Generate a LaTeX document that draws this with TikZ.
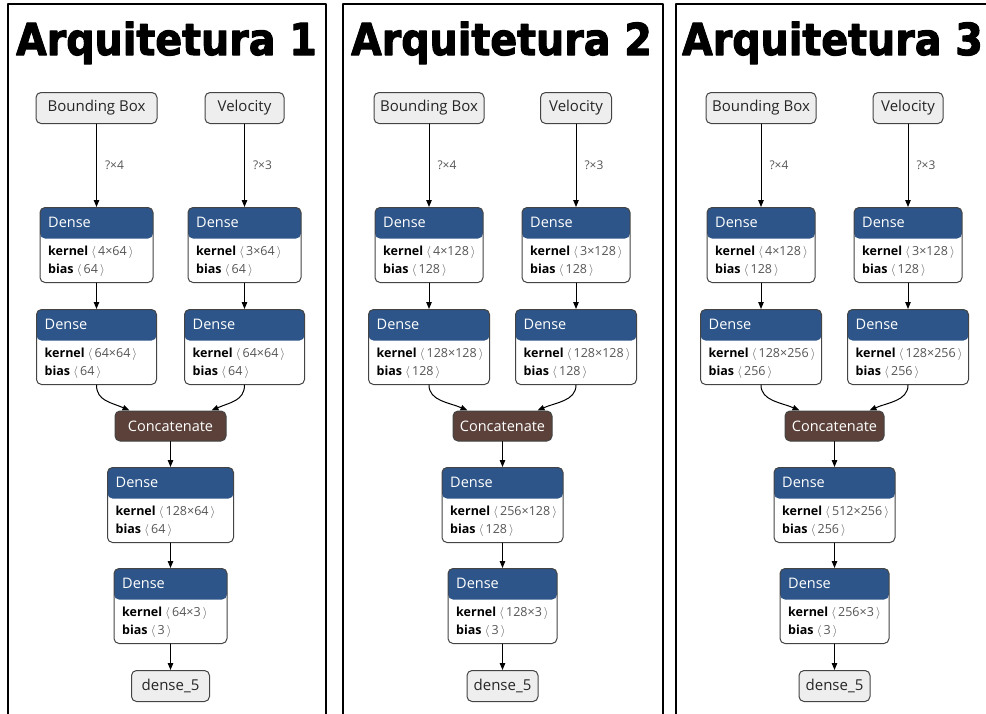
\documentclass[tikz,border=0pt]{standalone}
\usepackage{fontspec}
\setmainfont{Open Sans}
\newfontfamily\titlefont[FakeBold=2.5]{DejaVu Sans Bold}
\usetikzlibrary{arrows.meta}

\definecolor{denseblue}{HTML}{2E5589}
\definecolor{catbrown}{HTML}{5B4139}
\definecolor{iofill}{HTML}{EEEEEE}
\definecolor{boxline}{HTML}{444444}
\definecolor{dimgray}{HTML}{555555}

\tikzset{
  iobox/.style={draw=boxline, fill=iofill, rounded corners=5pt, line width=1pt, minimum height=31pt, inner sep=0pt, text=black!85, font=\fontsize{15}{17}\selectfont},
  catbox/.style={draw=boxline, fill=catbrown, rounded corners=5pt, line width=1pt, minimum height=30pt, inner sep=0pt, text=white, font=\fontsize{14.5}{17}\selectfont},
  densebox/.style={draw=boxline, fill=white, rounded corners=5pt, line width=1pt, minimum height=75pt, inner sep=0pt,
    path picture={\fill[denseblue] (path picture bounding box.north west) rectangle ([yshift=-31pt]path picture bounding box.north east);}},
  headtxt/.style={anchor=west, inner sep=0pt, text=white, font=\fontsize{14.5}{17}\selectfont},
  bodytxt/.style={anchor=west, inner sep=0pt, font=\fontsize{12.5}{15}\selectfont},
  flow/.style={-{Triangle[length=7pt,width=5.5pt]}, line width=1pt},
  dimlbl/.style={right, xshift=8pt, inner sep=0pt, text=dimgray, font=\fontsize{12}{14}\selectfont},
  panel/.style={draw, line width=2pt},
  titletxt/.style={anchor=base, inner sep=0pt, xscale=0.9, font=\titlefont\fontsize{44}{50}\selectfont}
}

\newcommand{\dims}[1]{{\color{dimgray}$\langle$\,#1\,$\rangle$}}
% name, centre x, top y, width, kernel, bias
\newcommand{\densenode}[6]{%
  \node[densebox, minimum width=#4pt, anchor=north] (#1) at (#2,#3) {};
  \node[headtxt] (#1h) at ([xshift=8.5pt,yshift=-15.5pt]#1.north west) {Dense};
  \node[bodytxt] (#1k) at ([xshift=8.5pt,yshift=-45pt]#1.north west) {\textbf{kernel} \dims{#5}};
  \node[bodytxt] (#1b) at ([xshift=8.5pt,yshift=-63pt]#1.north west) {\textbf{bias} \dims{#6}};
}

\begin{document}
\begin{tikzpicture}[x=1pt, y=-1pt, line join=round, line cap=round]
	\useasboundingbox (0,0) rectangle (986,713);
	\clip (0,0) rectangle (986,713);

	\draw[panel] (8,4) rectangle (326,730);
	\draw[panel] (343,4) rectangle (663,730);
	\draw[panel] (676,4) rectangle (1000,730);

	% Arquitetura 1
	\node[titletxt] (t1) at (166.5,55) {Arquitetura 1};
	\node[iobox, minimum width=121pt] (p1bb) at (96.5,108) {Bounding Box};
	\node[iobox, minimum width=79pt] (p1vel) at (244.5,108) {Velocity};
	\densenode{p1d1l}{96.5}{207}{113}{4×64}{64}
	\densenode{p1d1r}{244.5}{207}{113}{3×64}{64}
	\densenode{p1d2l}{96.5}{309}{120}{64×64}{64}
	\densenode{p1d2r}{244.5}{309}{120}{64×64}{64}
	\node[catbox, minimum width=111pt] (p1cat) at (170.5,426) {Concatenate};
	\densenode{p1d3}{170.5}{467}{126}{128×64}{64}
	\densenode{p1d4}{170.5}{568}{113}{64×3}{3}
	\node[iobox, minimum width=78pt] (p1out) at (170.5,686) {dense\_5};

	\draw[flow] (p1bb.south) -- (p1d1l.north) node[midway, dimlbl] {?×4};
	\draw[flow] (p1vel.south) -- (p1d1r.north) node[midway, dimlbl] {?×3};
	\draw[flow] (p1d1l.south) -- (p1d2l.north);
	\draw[flow] (p1d1r.south) -- (p1d2r.north);
	\draw[flow] (p1d2l.south) .. controls +(0,16) and +(-18,-8) .. ([xshift=15pt]p1cat.north west);
	\draw[flow] (p1d2r.south) .. controls +(0,16) and +(18,-8) .. ([xshift=-15pt]p1cat.north east);
	\draw[flow] (p1cat.south) -- (p1d3.north);
	\draw[flow] (p1d3.south) -- (p1d4.north);
	\draw[flow] (p1d4.south) -- (p1out.north);

	% Arquitetura 2
	\node[titletxt] (t2) at (501.5,55) {Arquitetura 2};
	\node[iobox, minimum width=110pt] (p2bb) at (429,108) {Bounding Box};
	\node[iobox, minimum width=71pt] (p2vel) at (576,108) {Velocity};
	\densenode{p2d1l}{429}{207}{108}{4×128}{128}
	\densenode{p2d1r}{576}{207}{108}{3×128}{128}
	\densenode{p2d2l}{429}{309}{121}{128×128}{128}
	\densenode{p2d2r}{576}{309}{121}{128×128}{128}
	\node[catbox, minimum width=99pt] (p2cat) at (502.5,426) {Concatenate};
	\densenode{p2d3}{502.5}{467}{121}{256×128}{128}
	\densenode{p2d4}{502.5}{568}{109}{128×3}{3}
	\node[iobox, minimum width=71pt] (p2out) at (502.5,686) {dense\_5};

	\draw[flow] (p2bb.south) -- (p2d1l.north) node[midway, dimlbl] {?×4};
	\draw[flow] (p2vel.south) -- (p2d1r.north) node[midway, dimlbl] {?×3};
	\draw[flow] (p2d1l.south) -- (p2d2l.north);
	\draw[flow] (p2d1r.south) -- (p2d2r.north);
	\draw[flow] (p2d2l.south) .. controls +(0,16) and +(-18,-8) .. ([xshift=15pt]p2cat.north west);
	\draw[flow] (p2d2r.south) .. controls +(0,16) and +(18,-8) .. ([xshift=-15pt]p2cat.north east);
	\draw[flow] (p2cat.south) -- (p2d3.north);
	\draw[flow] (p2d3.south) -- (p2d4.north);
	\draw[flow] (p2d4.south) -- (p2out.north);

	% Arquitetura 3
	\node[titletxt] (t3) at (832.5,55) {Arquitetura 3};
	\node[iobox, minimum width=110pt] (p3bb) at (761,108) {Bounding Box};
	\node[iobox, minimum width=70pt] (p3vel) at (908,108) {Velocity};
	\densenode{p3d1l}{761}{207}{108}{4×128}{128}
	\densenode{p3d1r}{908}{207}{108}{3×128}{128}
	\densenode{p3d2l}{761}{309}{121}{128×256}{256}
	\densenode{p3d2r}{908}{309}{121}{128×256}{256}
	\node[catbox, minimum width=99pt] (p3cat) at (834.5,426) {Concatenate};
	\densenode{p3d3}{834.5}{467}{121}{512×256}{256}
	\densenode{p3d4}{834.5}{568}{109}{256×3}{3}
	\node[iobox, minimum width=71pt] (p3out) at (834.5,686) {dense\_5};

	\draw[flow] (p3bb.south) -- (p3d1l.north) node[midway, dimlbl] {?×4};
	\draw[flow] (p3vel.south) -- (p3d1r.north) node[midway, dimlbl] {?×3};
	\draw[flow] (p3d1l.south) -- (p3d2l.north);
	\draw[flow] (p3d1r.south) -- (p3d2r.north);
	\draw[flow] (p3d2l.south) .. controls +(0,16) and +(-18,-8) .. ([xshift=15pt]p3cat.north west);
	\draw[flow] (p3d2r.south) .. controls +(0,16) and +(18,-8) .. ([xshift=-15pt]p3cat.north east);
	\draw[flow] (p3cat.south) -- (p3d3.north);
	\draw[flow] (p3d3.south) -- (p3d4.north);
	\draw[flow] (p3d4.south) -- (p3out.north);
\end{tikzpicture}
\end{document}
